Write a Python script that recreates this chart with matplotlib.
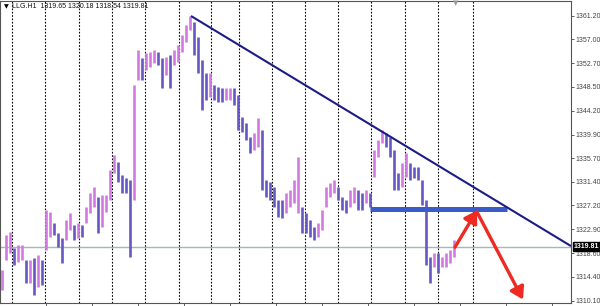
import matplotlib
matplotlib.use("Agg")
import matplotlib.pyplot as plt
from matplotlib.patches import FancyArrowPatch
import numpy as np

# ---- data (prices) ----
highs = [1315.6, 1321.9, 1322.4, 1319.6, 1320.1, 1320.1, 1317.4, 1317.4, 1317.8, 1318.3,
         1317.4, 1326.4, 1326.0, 1324.0, 1322.3, 1321.4, 1324.6, 1325.8, 1323.7, 1324.0,
         1323.7, 1326.9, 1329.4, 1330.5, 1328.7, 1329.1, 1329.1, 1333.6, 1336.3, 1335.0,
         1332.7, 1332.1, 1331.8, 1348.8, 1355.1, 1353.7, 1354.6, 1354.7, 1355.1, 1354.7,
         1353.7, 1353.8, 1354.2, 1355.1, 1356.0, 1357.8, 1359.6, 1361.2, 1360.1, 1357.4,
         1353.3, 1351.0, 1351.0, 1348.8, 1348.5, 1348.3, 1348.3, 1348.3, 1348.3, 1347.0,
         1343.1, 1342.0, 1339.5, 1340.2, 1342.9, 1340.7, 1331.8, 1331.4, 1330.5, 1328.2,
         1328.2, 1329.4, 1330.0, 1331.8, 1335.9, 1326.9, 1325.8, 1324.6, 1323.3, 1324.0,
         1326.4, 1330.5, 1331.2, 1331.8, 1330.5, 1328.7, 1328.2, 1330.0, 1330.5, 1330.0,
         1329.4, 1330.0, 1329.4, 1337.1, 1338.9, 1340.7, 1340.2, 1339.5, 1337.1, 1333.0,
         1334.8, 1336.6, 1334.8, 1334.1, 1334.1, 1331.8, 1328.2, 1317.9, 1318.7, 1318.7,
         1317.9, 1318.7, 1319.2, 1321.0]
lows = [1312.0, 1317.4, 1318.7, 1316.5, 1317.0, 1317.4, 1313.3, 1313.3, 1311.1, 1312.6,
        1312.9, 1319.2, 1321.5, 1321.9, 1319.7, 1316.9, 1321.0, 1322.8, 1321.0, 1321.4,
        1321.5, 1324.0, 1325.8, 1326.9, 1322.3, 1323.3, 1326.0, 1328.2, 1333.0, 1331.4,
        1329.4, 1329.4, 1317.9, 1328.2, 1349.7, 1349.7, 1351.5, 1352.0, 1352.8, 1352.4,
        1348.3, 1350.6, 1348.3, 1352.4, 1352.9, 1354.7, 1356.5, 1358.7, 1354.2, 1351.0,
        1344.3, 1346.1, 1346.7, 1346.1, 1345.8, 1345.8, 1346.1, 1346.1, 1345.2, 1340.7,
        1340.4, 1338.9, 1336.6, 1337.1, 1337.7, 1330.0, 1328.7, 1328.2, 1326.9, 1325.1,
        1324.9, 1325.8, 1326.9, 1327.6, 1325.8, 1322.3, 1322.3, 1321.5, 1321.0, 1321.5,
        1322.8, 1326.9, 1328.7, 1329.4, 1328.2, 1326.4, 1325.8, 1326.9, 1327.6, 1326.4,
        1326.4, 1327.6, 1326.9, 1332.3, 1335.9, 1338.4, 1337.7, 1335.9, 1330.0, 1330.0,
        1330.5, 1332.3, 1331.8, 1332.1, 1331.8, 1327.3, 1316.5, 1313.3, 1316.1, 1315.1,
        1316.1, 1316.1, 1316.9, 1317.9]

price_ticks = [1361.20, 1357.00, 1352.70, 1348.50, 1344.20, 1339.90, 1335.70,
               1331.40, 1327.20, 1322.90, 1318.60, 1314.40, 1310.10]
day_separators = [2.5, 10.75, 19.25, 27.5, 35.75, 44.25, 52.25, 59.25, 67.5,
                  75.75, 84, 92.25, 100.75, 109, 117.75]
time_ticks = [11, 22.5, 34, 45.5, 57, 68.5, 80, 91.5, 103, 114.5, 126, 137.5]

last_price = 1319.81
title_text = "LLG.H1  1319.65 1320.18 1318.54 1319.81"

trend_start = (47.25, 1361.2)
trend_end = (142.25, 1319.9)
support_level = 1326.6
support_span = (92.0, 126.25)
arrow_up = ((113.25, 1319.7), (118.75, 1326.3))
arrow_down = ((118.75, 1326.0), (130.25, 1310.3))

FONT = ["Liberation Sans", "DejaVu Sans"]

# ---- figure ----
W, H = 600, 306
fig = plt.figure(figsize=(W / 100, H / 100), dpi=100)
fig.patch.set_facecolor("white")
ax = fig.add_axes([0.0, 3 / H, 571 / W, 302 / H])
ax.set_xlim(-0.5, 142.25)
ax.set_ylim(1309.68, 1363.89)

x = np.arange(len(highs))
mids = (np.array(highs) + np.array(lows)) / 2
up = np.r_[True, mids[1:] >= mids[:-1]]
cols = np.where(up, "#d27ae2", "#6658c4")

# day separators
for d in day_separators:
    ax.axvline(d, color="black", lw=0.8, ls=(0, (1.5, 1.5)), zorder=1)

# current price line
ax.axhline(last_price, color="#a8b6b6", lw=1.0, zorder=1)

ax.vlines(x, lows, highs, colors=cols, lw=1.9, zorder=2)

# trend line
ax.plot([trend_start[0], trend_end[0]], [trend_start[1], trend_end[1]],
        color="#1c1c86", lw=1.5, zorder=4, solid_capstyle="butt")
# support
ax.plot(list(support_span), [support_level, support_level], color="#3a5cc8",
        lw=3.6, zorder=3, solid_capstyle="butt")

for (a, b) in (arrow_up, arrow_down):
    ar = FancyArrowPatch(a, b, arrowstyle="-|>,head_length=4.5,head_width=2.8",
                         color="#ee2a22", lw=2.4, zorder=5, shrinkA=0, shrinkB=0,
                         mutation_scale=1.6)
    ax.add_patch(ar)

# axes styling
for s in ax.spines.values():
    s.set_color("#555555")
    s.set_linewidth(0.8)
ax.yaxis.tick_right()
ax.set_yticks(price_ticks)
ax.set_yticklabels([f"{p:.2f}" for p in price_ticks], family=FONT)
ax.tick_params(axis="y", direction="out", length=2, width=0.6, colors="#444444",
               labelsize=5.0, pad=1)
ax.set_xticks(time_ticks)
ax.set_xticklabels([])
ax.tick_params(axis="x", direction="out", length=3, width=0.6, colors="#444444")

# last price box
ax.annotate(f"{last_price:.2f}", xy=(1.0, last_price), xycoords=("axes fraction", "data"),
            xytext=(2.2, 0), textcoords="offset points", ha="left", va="center",
            fontsize=5.0, color="white", fontweight="bold", family=FONT,
            bbox=dict(boxstyle="square,pad=0.2", fc="black", ec="black"))

# title
fig.text(4 / W, 1 - 7 / H, "\u25BC", fontsize=4.5, color="black", va="center", ha="left")
fig.text(12 / W, 1 - 7 / H, title_text, fontsize=5.0, color="#111111", va="center",
         ha="left", family=FONT)
# shift marker
fig.text(456 / W, 1 - 3 / H, "\u25BC", fontsize=5, color="#999999", va="center", ha="center")

fig.savefig("out.png", dpi=100, facecolor="white")
